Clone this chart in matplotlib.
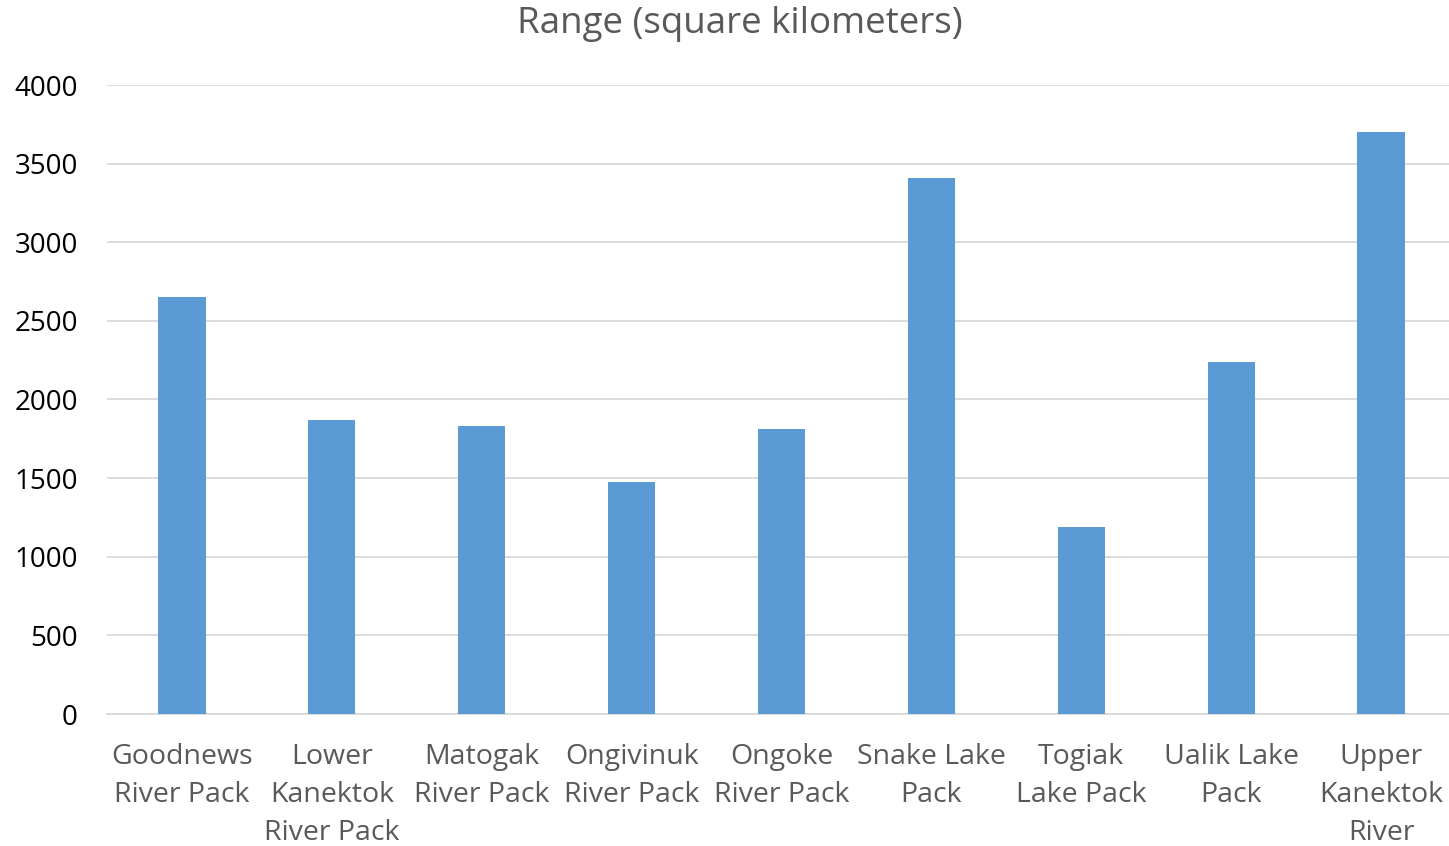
import matplotlib.pyplot as plt
import numpy as np

packs = ['Goodnews\nRiver Pack', 'Lower\nKanektok\nRiver Pack', 'Matogak\nRiver Pack',
         'Ongivinuk\nRiver Pack', 'Ongoke\nRiver Pack', 'Snake Lake\nPack',
         'Togiak\nLake Pack', 'Ualik Lake\nPack', 'Upper\nKanektok\nRiver\nPack']
range_km2 = [2650, 1870, 1832, 1475, 1812, 3410, 1190, 2240, 3700]
yticks = [0, 500, 1000, 1500, 2000, 2500, 3000, 3500, 4000]

plt.rcParams['font.family'] = ['Open Sans', 'DejaVu Sans']
text_color = '#595959'
grid_color = '#d9d9d9'

fig = plt.figure(figsize=(14.49, 8.46), dpi=100)
# the plot area runs a few pixels past the right edge, as in the original
ax = fig.add_axes([107/1449, 1 - 714/846, (1456 - 107)/1449, (714 - 85)/846])

x = np.arange(len(packs))
ax.bar(x, range_km2, width=0.315, color='#5b9bd5', zorder=3)

ax.set_xlim(-0.5, len(packs) - 0.5)
ax.set_ylim(0, 4000)
ax.set_yticks(yticks)
ax.set_yticklabels([str(t) for t in yticks], fontsize=20, color='black')
ax.set_xticks(x)
ax.set_xticklabels(packs, fontsize=20.5, color=text_color, linespacing=1.47)
ax.tick_params(axis='both', length=0)
ax.tick_params(axis='x', pad=21)
ax.tick_params(axis='y', pad=21)

ax.grid(axis='y', color=grid_color, linewidth=1.3, zorder=0)
for side in ['top', 'right', 'left']:
    ax.spines[side].set_visible(False)
ax.spines['bottom'].set_color(grid_color)
ax.spines['bottom'].set_linewidth(1.3)

fig.text(740/1449, 1 - 24/846, 'Range (square kilometers)', ha='center', va='center',
         fontsize=26.5, color=text_color)

fig.savefig('out.png', dpi=100)
